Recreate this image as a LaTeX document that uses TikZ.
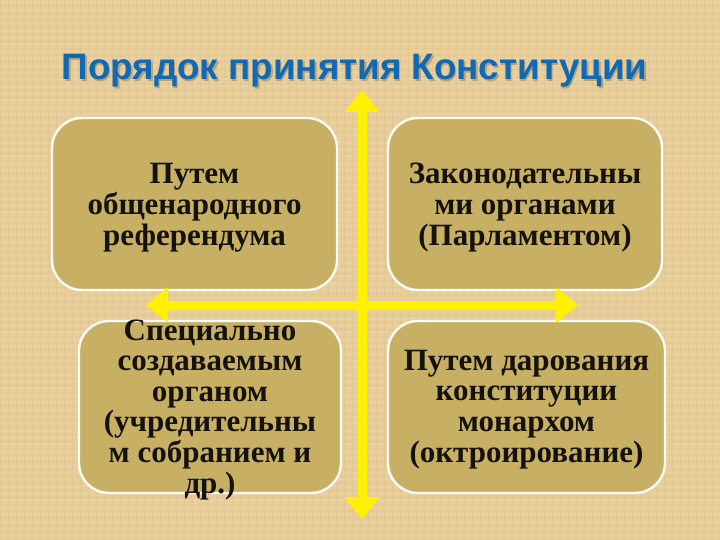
\documentclass[tikz,border=0pt]{standalone}
\usepackage{fontspec}
\setmainfont{Liberation Serif}
\newfontfamily\titlefont{Liberation Sans}
\usetikzlibrary{arrows.meta}
\definecolor{paper}{HTML}{E7CD99}
\definecolor{paperdark}{HTML}{D9BC84}
\definecolor{paperlight}{HTML}{EFDDB6}
\definecolor{boxfill}{HTML}{C7B064}
\definecolor{titleblue}{HTML}{1069B4}
\tikzset{
    card/.style={draw=white!92!paper, line width=2.4pt, fill=boxfill, rounded corners=30pt, text=black!90!boxfill,
        align=center, inner sep=0pt, minimum height=172pt, font=\fontsize{31}{30.6}\selectfont\bfseries},
    axis/.style={draw=yellow, line width=9pt, {Triangle[width=34pt,length=22pt]}-{Triangle[width=34pt,length=22pt]}},
    heading/.style={font=\titlefont\fontsize{36.8}{40}\selectfont\bfseries}
}
\begin{document}
\begin{tikzpicture}[x=1pt,y=-1pt]

    \useasboundingbox (0,0) rectangle (720,540);
    \fill[paper] (0,0) rectangle (720,540);
    % woven paper
    \foreach \i in {0,7,...,540} {
        \draw[paperdark, line width=1pt, opacity=0.3] (0,\i) -- (720,\i);
        \draw[paperlight, line width=1pt, opacity=0.35] (0,\i+3) -- (720,\i+3);
    }
    \foreach \i in {0,8,...,720} {
        \draw[paperdark, line width=1pt, opacity=0.28] (\i,0) -- (\i,540);
        \draw[paperlight, line width=1pt, opacity=0.3] (\i+3,0) -- (\i+3,540);
    }

    \node[heading, text=black!35!paper, opacity=0.6] at (356,72.5) (title shadow) {Порядок принятия Конституции};
    \node[heading, text=titleblue] at (354.5,71) (title) {Порядок принятия Конституции};

    \node[card, minimum width=285pt, text height=127pt, text depth=45pt] at (194.5,204) (referendum) {Путем\\общенародного\\референдума};
    \node[card, minimum width=274pt, text height=127pt, text depth=45pt] at (525,204) (parliament) {Законодательны\\ми органами\\(Парламентом)};
    \node[card, minimum width=262pt, text height=172pt, text depth=0pt] at (210,407) (assembly) {Специально\\создаваемым\\органом\\(учредительны\\м собранием и\\др.)};
    \node[card, minimum width=277pt, text height=141pt, text depth=31pt] at (526.5,407) (monarch) {Путем дарования\\конституции\\монархом\\(октроирование)};

    \coordinate (top) at (362,90);
    \coordinate (bottom) at (362,519);
    \coordinate (left) at (146,305);
    \coordinate (right) at (578,305);

    \draw[axis] (left) -- (right);
    \draw[axis] (bottom) -- (top);

\end{tikzpicture}
\end{document}
